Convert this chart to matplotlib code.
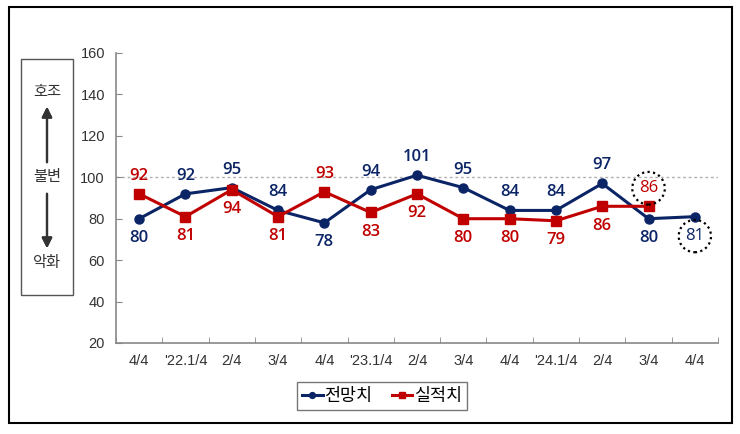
import matplotlib
matplotlib.use("Agg")
import matplotlib.pyplot as plt
from matplotlib.patches import Rectangle

plt.rcParams['font.family'] = ['Liberation Sans', 'Noto Sans CJK KR', 'DejaVu Sans']

quarters = ["4/4", "'22.1/4", "2/4", "3/4", "4/4", "'23.1/4", "2/4", "3/4",
            "4/4", "'24.1/4", "2/4", "3/4", "4/4"]
forecast = [80, 92, 95, 84, 78, 94, 101, 95, 84, 84, 97, 80, 81]
actual = [92, 81, 94, 81, 93, 83, 92, 80, 80, 79, 86, 86]

# label placement: 1 = above point, -1 = below
forecast_side = [-1, 1, 1, 1, -1, 1, 1, 1, 1, 1, 1, -1, -1]
actual_side = [1, -1, -1, -1, 1, -1, -1, -1, -1, -1, -1, 1]

NAVY = "#0b2466"
RED = "#c00000"
W, H = 740, 434

fig = plt.figure(figsize=(W / 100, H / 100), dpi=100)
ax = fig.add_axes([116 / W, 1 - 343 / H, (718 - 116) / W, (343 - 53) / H])

x = list(range(len(quarters)))
ax.plot(x, forecast, color=NAVY, lw=2.2, marker="o", ms=6.5, label="전망치", zorder=3)
ax.plot(x[:len(actual)], actual, color=RED, lw=2.2, marker="s", ms=6.5, label="실적치", zorder=3)

ax.axhline(100, color="#b0b0b0", lw=1, ls=(0, (2, 2)), zorder=1)

circ = dict(boxstyle="circle,pad=0.4", fc="none", ec="black", ls=(0, (1, 1.5)), lw=1.6)

def put_labels(vals, sides, color, circled):
    for i, (v, s) in enumerate(zip(vals, sides)):
        off = 13 if s > 0 else -14
        ax.annotate(str(v), (i, v), xytext=(0, off), textcoords="offset points",
                    ha="center", va="center", fontsize=12, color=color,
                    family="Open Sans",
                    fontweight="normal" if i == circled else "semibold",
                    bbox=circ if i == circled else None, zorder=4)

put_labels(forecast, forecast_side, NAVY, 12)
put_labels(actual, actual_side, RED, 11)

ax.set_xlim(-0.5, len(quarters) - 0.5)
ax.set_ylim(20, 160)
ax.set_yticks(range(20, 161, 20))
ax.set_xticks(x)
ax.set_xticklabels(quarters)
ax.set_xticks([i + 0.5 for i in range(-1, len(quarters))], minor=True)
ax.tick_params(axis="x", which="major", length=0, pad=8, labelsize=10.5, labelcolor="#333333")
ax.tick_params(axis="x", which="minor", length=4, color="#888888", direction="in")
ax.tick_params(axis="y", length=4, color="#888888", direction="in", labelsize=10.5,
               labelcolor="#333333", pad=8)
for sp in ["top", "right"]:
    ax.spines[sp].set_visible(False)
for sp in ["left", "bottom"]:
    ax.spines[sp].set_color("#888888")
    ax.spines[sp].set_linewidth(1.2)

leg = ax.legend(loc="center", bbox_to_anchor=(382 / W, 1 - 396 / H), bbox_transform=fig.transFigure,
                ncol=2, frameon=True, fancybox=False, handlelength=1.2,
                handletextpad=0.1, columnspacing=1.1, borderpad=0.3, markerscale=0.65,
                prop={"family": ["Noto Sans CJK KR"], "size": 12.5})
leg.get_frame().set_edgecolor("#555555")
leg.get_frame().set_linewidth(1)

def fx(px):
    return px / W

def fy(py):
    return 1 - py / H

# outer border
fig.patches.append(Rectangle((fx(9), fy(423)), fx(732) - fx(9), fy(7) - fy(423),
                             transform=fig.transFigure, fill=False, ec="black", lw=1.5))
# left indicator box
fig.patches.append(Rectangle((fx(21), fy(295)), fx(73) - fx(21), fy(59) - fy(295),
                             transform=fig.transFigure, fill=False, ec="#555555", lw=1))
for txt, py in [("호조", 92), ("불변", 177), ("악화", 262)]:
    fig.text(fx(47), fy(py), txt, ha="center", va="center", fontsize=11,
             color="#333333", family=["Noto Sans CJK KR"])
arrow = dict(arrowstyle="-|>,head_width=0.3,head_length=0.6", color="#333333", lw=1.6)
fig.add_artist(plt.annotate("", xy=(fx(47), fy(104)), xytext=(fx(47), fy(165)),
                            xycoords="figure fraction", arrowprops=arrow))
fig.add_artist(plt.annotate("", xy=(fx(47), fy(251)), xytext=(fx(47), fy(191)),
                            xycoords="figure fraction", arrowprops=arrow))

fig.savefig("out.png", dpi=100)
